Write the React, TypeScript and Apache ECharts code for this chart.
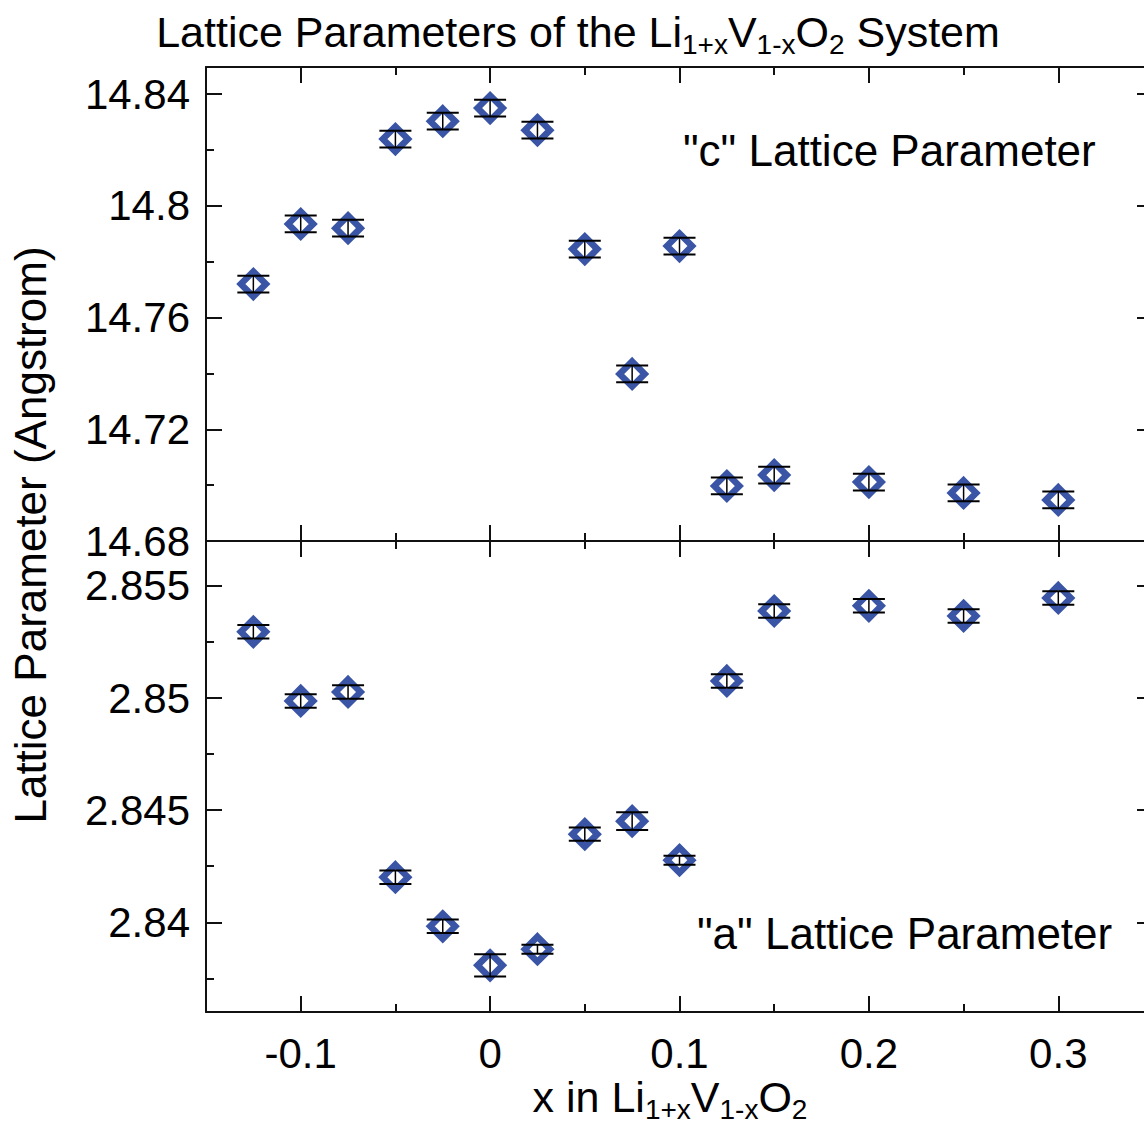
import React, { useEffect, useRef } from "react";
import * as echarts from "echarts";

const xValues = [-0.125, -0.1, -0.075, -0.05, -0.025, 0, 0.025, 0.05, 0.075, 0.1, 0.125, 0.15, 0.2, 0.25, 0.3];
const cValues = [14.772, 14.7935, 14.792, 14.8239, 14.8303, 14.835, 14.8271, 14.7845, 14.7398, 14.7856, 14.6997, 14.7036, 14.7011, 14.6972, 14.6947];
const cErrors = [0.003, 0.003, 0.003, 0.003, 0.003, 0.003, 0.003, 0.003, 0.003, 0.003, 0.003, 0.003, 0.003, 0.003, 0.003];
const aValues = [2.85295, 2.84987, 2.85027, 2.84201, 2.83982, 2.83808, 2.8388, 2.84393, 2.84451, 2.84277, 2.85076, 2.85388, 2.85411, 2.85366, 2.85446];
const aErrors = [0.0003, 0.0003, 0.0003, 0.0003, 0.0003, 0.0005, 0.0002, 0.0003, 0.0004, 0.0002, 0.0003, 0.0003, 0.0003, 0.0003, 0.0003];

const xMajorTicks = [-0.1, 0, 0.1, 0.2, 0.3];
const xMinorTicks = [-0.05, 0.05, 0.15, 0.25];
const cMajorTicks = [14.68, 14.72, 14.76, 14.8, 14.84];
const cMinorTicks = [14.7, 14.74, 14.78, 14.82];
const aMajorTicks = [2.84, 2.845, 2.85, 2.855];
const aMinorTicks = [2.8375, 2.8425, 2.8475, 2.8525];

const X_MIN = -0.15, X_MAX = 0.35;
const C_MIN = 14.68, C_MAX = 14.8497;
const A_MIN = 2.836, A_MAX = 2.857;

const FONT = "Liberation Sans";
const BLUE = "#3a55a5";

function makeAxisPair(kind: "x" | "y", gridIndex: number, position: string, min: number, max: number, majors: number[], minors: number[], showLabels: boolean) {
  const base: any = {
    type: "value",
    gridIndex,
    position,
    min,
    max,
    splitLine: { show: false },
  };
  const a = {
    ...base,
    axisLine: { show: true, onZero: false, lineStyle: { color: "#111", width: 2 } },
    axisTick: { show: true, inside: true, length: 8, customValues: minors, lineStyle: { color: "#111", width: 2 } },
    axisLabel: showLabels
      ? { show: true, customValues: majors, fontFamily: FONT, fontSize: 42, color: "#000", margin: kind === "x" ? 20 : 16 }
      : { show: false },
  };
  const b = {
    ...base,
    axisLine: { show: false, onZero: false },
    axisTick: { show: true, inside: true, length: 16, customValues: majors, lineStyle: { color: "#111", width: 2 } },
    axisLabel: { show: false },
  };
  return [a, b];
}

function errorBarRender(params: any, api: any) {
  const x = api.value(0);
  const y = api.value(1);
  const e = api.value(2);
  const top = api.coord([x, y + e]);
  const bot = api.coord([x, y - e]);
  const hw = 16;
  const st = { stroke: "#000", lineWidth: 2 };
  return {
    type: "group",
    children: [
      { type: "line", shape: { x1: top[0], y1: top[1], x2: bot[0], y2: bot[1] }, style: { stroke: "#000", lineWidth: 1.5 } },
      { type: "line", shape: { x1: top[0] - hw, y1: top[1], x2: top[0] + hw, y2: top[1] }, style: st },
      { type: "line", shape: { x1: bot[0] - hw, y1: bot[1], x2: bot[0] + hw, y2: bot[1] }, style: st },
    ],
  };
}

export default function App() {
  const ref = useRef<HTMLDivElement>(null);
  useEffect(() => {
    if (!ref.current) return;
    const chart = echarts.init(ref.current, null, { renderer: "svg" });

    const xAxes = [
      ...makeAxisPair("x", 0, "bottom", X_MIN, X_MAX, xMajorTicks, xMinorTicks, false),
      ...makeAxisPair("x", 0, "top", X_MIN, X_MAX, xMajorTicks, xMinorTicks, false),
      ...makeAxisPair("x", 1, "bottom", X_MIN, X_MAX, xMajorTicks, xMinorTicks, true),
      ...makeAxisPair("x", 1, "top", X_MIN, X_MAX, xMajorTicks, xMinorTicks, false),
    ];
    const yAxes = [
      ...makeAxisPair("y", 0, "left", C_MIN, C_MAX, cMajorTicks, cMinorTicks, true),
      ...makeAxisPair("y", 0, "right", C_MIN, C_MAX, cMajorTicks, cMinorTicks, false),
      ...makeAxisPair("y", 1, "left", A_MIN, A_MAX, aMajorTicks, aMinorTicks, true),
      ...makeAxisPair("y", 1, "right", A_MIN, A_MAX, aMajorTicks, aMinorTicks, false),
    ];

    const cData = xValues.map((x, i) => [x, cValues[i], cErrors[i]]);
    const aData = xValues.map((x, i) => [x, aValues[i], aErrors[i]]);

    const subRich = {
      m: { fontFamily: FONT, fontSize: 43, lineHeight: 52, color: "#000", verticalAlign: "middle" },
      s: { fontFamily: FONT, fontSize: 28, lineHeight: 28, color: "#000", verticalAlign: "bottom" },
    };

    const markerStyle = { color: "#fff", borderColor: BLUE, borderWidth: 6.5, opacity: 1 };

    const option: any = {
      animation: false,
      backgroundColor: "#fff",
      grid: [
        { left: 206, top: 67, width: 947, height: 474, containLabel: false },
        { left: 206, top: 541, width: 947, height: 471, containLabel: false },
      ],
      xAxis: xAxes,
      yAxis: yAxes,
      series: [
        {
          type: "scatter",
          xAxisIndex: 0,
          yAxisIndex: 0,
          data: cData,
          symbol: "diamond",
          symbolSize: 25,
          itemStyle: markerStyle,
          z: 3,
        },
        {
          type: "custom",
          xAxisIndex: 0,
          yAxisIndex: 0,
          data: cData,
          renderItem: errorBarRender,
          z: 4,
        },
        {
          type: "scatter",
          xAxisIndex: 4,
          yAxisIndex: 4,
          data: aData,
          symbol: "diamond",
          symbolSize: 25,
          itemStyle: markerStyle,
          z: 3,
        },
        {
          type: "custom",
          xAxisIndex: 4,
          yAxisIndex: 4,
          data: aData,
          renderItem: errorBarRender,
          z: 4,
        },
      ],
      graphic: [
        {
          type: "text",
          x: 578,
          y: 32,
          style: {
            text: "{m|Lattice Parameters of the Li}{s|1+x}{m|V}{s|1-x}{m|O}{s|2}{m| System}",
            rich: subRich,
            textAlign: "center",
            textVerticalAlign: "middle",
          },
        },
        {
          type: "text",
          x: 670,
          y: 1097,
          style: {
            text: "{m|x in Li}{s|1+x}{m|V}{s|1-x}{m|O}{s|2}",
            rich: subRich,
            textAlign: "center",
            textVerticalAlign: "middle",
          },
        },
        {
          type: "text",
          x: 30,
          y: 535,
          rotation: Math.PI / 2,
          style: {
            text: "Lattice Parameter (Angstrom)",
            fontFamily: FONT,
            fontSize: 44,
            fill: "#000",
            textAlign: "center",
            textVerticalAlign: "middle",
          },
        },
        {
          type: "text",
          x: 683,
          y: 150,
          style: {
            text: '"c" Lattice Parameter',
            fontFamily: FONT,
            fontSize: 44,
            fill: "#000",
            textAlign: "left",
            textVerticalAlign: "middle",
          },
        },
        {
          type: "text",
          x: 697,
          y: 933,
          style: {
            text: '"a" Lattice Parameter',
            fontFamily: FONT,
            fontSize: 44,
            fill: "#000",
            textAlign: "left",
            textVerticalAlign: "middle",
          },
        },
      ],
    };
    chart.setOption(option);
    return () => chart.dispose();
  }, []);

  return (
    <div style={{ position: "fixed", left: 0, top: 0, width: 1144, height: 1129, overflow: "hidden", background: "#fff" }}>
      <div ref={ref} style={{ width: 1170, height: 1129 }} />
    </div>
  );
}
